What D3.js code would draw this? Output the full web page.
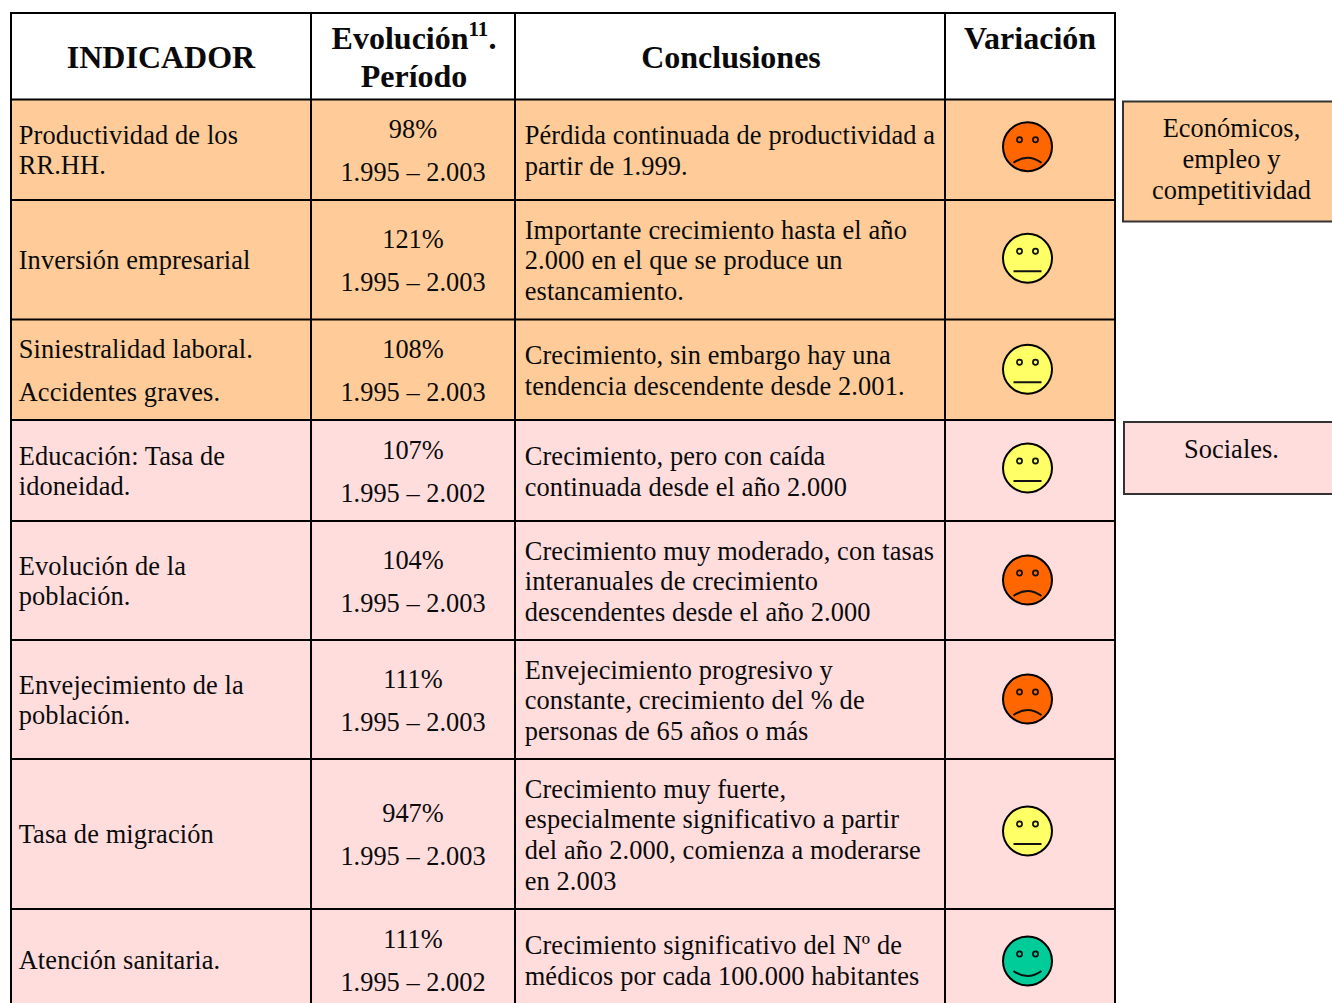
<!DOCTYPE html>
<html><head><meta charset="utf-8">
<script src="https://cdn.jsdelivr.net/npm/d3@7"></script>
<style>html,body{margin:0;padding:0;background:#fff;overflow:hidden}svg{display:block}text{font-family:"Liberation Serif","Times New Roman",serif;fill:#0a0a0a}</style>
</head><body><div id="c"></div>
<script>
const indicadores=[["Productividad de los","RR.HH."],["Inversión empresarial"],["Siniestralidad laboral.","Accidentes graves."],["Educación: Tasa de","idoneidad."],["Evolución de la","población."],["Envejecimiento de la","población."],["Tasa de migración"],["Atención sanitaria."]];
const evolucion=[98,121,108,107,104,111,947,111];
const periodos=["1.995 – 2.003","1.995 – 2.003","1.995 – 2.003","1.995 – 2.002","1.995 – 2.003","1.995 – 2.003","1.995 – 2.003","1.995 – 2.002"];
const conclusiones=[["Pérdida continuada de productividad a","partir de 1.999."],["Importante crecimiento hasta el año","2.000 en el que se produce un","estancamiento."],["Crecimiento, sin embargo hay una","tendencia descendente desde 2.001."],["Crecimiento, pero con caída","continuada desde el año 2.000"],["Crecimiento muy moderado, con tasas","interanuales de crecimiento","descendentes desde el año 2.000"],["Envejecimiento progresivo y","constante, crecimiento del % de","personas de 65 años o más"],["Crecimiento muy fuerte,","especialmente significativo a partir","del año 2.000, comienza a moderarse","en 2.003"],["Crecimiento significativo del Nº de","médicos por cada 100.000 habitantes"]];
const variacion=["mal","medio","medio","medio","mal","mal","medio","bien"];
const grupos=["eco","eco","eco","soc","soc","soc","soc","soc"];
const rowEdges=[99.5,200,319.5,420,521,640,759,909,1011];
const colEdges=[11,311,515,945,1115];
const faceNudge=[-3,-1.5,-0.5,-2.5,-0.5,-0.5,-3,1];
const W=1332,H=1003;
const svg=d3.select("#c").append("svg").attr("width",W).attr("height",H);
const bg=d3.scaleOrdinal(["eco","soc"],["#FFCC99","#FFDDDD"]);
const faceColor=d3.scaleOrdinal(["mal","medio","bien"],["#FF6600","#FFFF66","#00CC99"]);
const rows=d3.range(8);
const rowTop=i=>rowEdges[i],rowBot=i=>rowEdges[i+1],mid=i=>(rowTop(i)+rowBot(i))/2;
const FS=26.4;
svg.selectAll("rect.row").data(rows).join("rect").attr("class","row").attr("x",colEdges[0]).attr("width",colEdges[4]-colEdges[0]).attr("y",rowTop).attr("height",i=>rowBot(i)-rowTop(i)).attr("fill",i=>bg(grupos[i]));
function lines(g,arr,x,cy,step,anchor,ls){
  arr.forEach((t,k)=>{g.append("text").attr("x",x).attr("y",cy+(k-(arr.length-1)/2)*step).attr("dy","0.32em").attr("text-anchor",anchor||"start").attr("font-size",FS).attr("letter-spacing",ls||0).text(t);});
}
const g=svg.append("g");
rows.forEach(i=>{
  const c=mid(i)+1;
  lines(g,indicadores[i],18.7,c,i==2?43:30.6,"start",0.12);
  lines(g,[evolucion[i]+"%",periodos[i]],413,c+0.3,43,"middle");
  lines(g,conclusiones[i],524.7,c+0.3,30.7,"start",0.12);
});
const hb=(t,x,y)=>g.append("text").attr("x",x).attr("y",y).attr("text-anchor","middle").attr("font-size",32).attr("font-weight",700).text(t);
hb("INDICADOR",161,68);
const ev=g.append("text").attr("x",414).attr("y",49).attr("text-anchor","middle").attr("font-size",32).attr("font-weight",700);
ev.append("tspan").text("Evolución");
ev.append("tspan").attr("font-size",21).attr("dy",-13).text("11");
ev.append("tspan").attr("dy",13).text(".");
hb("Período",414,86.5);
hb("Conclusiones",731,68);
hb("Variación",1030,49);
const faces=svg.selectAll("g.face").data(rows).join("g").attr("class","face").attr("transform",i=>`translate(1027.5,${mid(i)+faceNudge[i]})`);
faces.append("circle").attr("r",24.5).attr("fill",i=>faceColor(variacion[i])).attr("stroke","#000").attr("stroke-width",2);
[-8,8].forEach(dx=>faces.append("circle").attr("cx",dx).attr("cy",-7).attr("r",2.6).attr("fill","none").attr("stroke","#111").attr("stroke-width",1.7));
faces.append("path").attr("fill","none").attr("stroke","#111").attr("stroke-width",2).attr("d",i=>{const v=variacion[i];return v=="mal"?"M-14,16Q0,6 14,16":v=="medio"?"M-14,13L14,13":"M-14,10Q0,20 14,10";});
const gl=svg.append("g").attr("stroke","#000").attr("stroke-width",2);
colEdges.forEach(x=>gl.append("line").attr("x1",x).attr("x2",x).attr("y1",13).attr("y2",H));
[13,...rowEdges.slice(0,8)].forEach(y=>gl.append("line").attr("x1",10).attr("x2",1116).attr("y1",y).attr("y2",y));
const cajas=[{x:1123,y:101.5,h:120,fill:"#FFCC99",t:["Económicos,","empleo y","competitividad"],cy:160},{x:1124,y:422,h:72,fill:"#FFDDDD",t:["Sociales."],cy:450}];
cajas.forEach(b=>{
  svg.append("rect").attr("x",b.x).attr("y",b.y).attr("width",W-b.x+5).attr("height",b.h).attr("fill",b.fill).attr("stroke","#333").attr("stroke-width",2);
  lines(svg.append("g"),b.t,1231.5,b.cy,31,"middle",0.05);
});
</script></body></html>
